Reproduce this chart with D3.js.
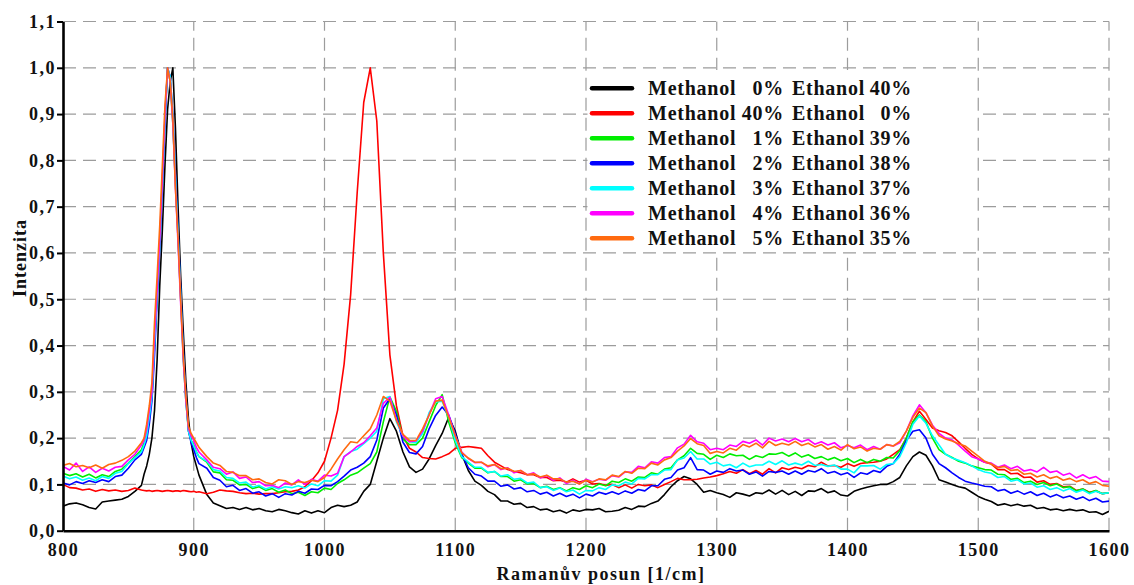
<!DOCTYPE html>
<html>
<head>
<meta charset="utf-8">
<script src="https://cdn.jsdelivr.net/npm/d3@7"></script>
<style>
  body { margin: 0; background: #fff; }
  text { font-family: "Liberation Serif", "Times New Roman", serif; font-weight: bold; fill: #111; }
</style>
</head>
<body>
<svg id="chart" width="1134" height="585"></svg>
<script>
// Axis ticks
const xTicks = [800, 900, 1000, 1100, 1200, 1300, 1400, 1500, 1600];
const yTicks = [0, 0.1, 0.2, 0.3, 0.4, 0.5, 0.6, 0.7, 0.8, 0.9, 1.0, 1.1];
const yTickLabels = ["0,0", "0,1", "0,2", "0,3", "0,4", "0,5", "0,6", "0,7", "0,8", "0,9", "1,0", "1,1"];

// Sampling grid of the spectra [1/cm]: finer around the sharp 880 band
const wavenumbers = [
  ...d3.range(800, 860, 5),
  ...d3.range(860, 906, 2),
  ...d3.range(910, 1601, 5)
];

// Mixture composition (legend)
const methanolPct = [0, 40, 1, 2, 3, 4, 5];
const ethanolPct = [40, 0, 39, 38, 37, 36, 35];
const seriesColors = ["#000000", "#ff0000", "#00ee00", "#0000ff", "#00ffff", "#ff00ff", "#ff6a10"];

// Normalised Raman intensities, one array per mixture
const methanol0 = [
  .053,.058,.060,.056,.050,.047,.062,.064,.066,.068,.074,.085,
  .098,.122,.140,.165,.200,.260,.370,.530,.650,.790,.910,.970,1.00,.870,.700,.550,.430,.320,.240,.190,.160,.140,.120,
  .078,.060,.054,.048,.050,.046,.050,.045,.048,.043,
  .041,.046,.043,.039,.036,.043,.038,.043,.039,.050,
  .055,.052,.055,.062,.085,.100,.150,.200,.242,.215,
  .170,.138,.126,.133,.155,.184,.210,.245,.215,.165,
  .130,.107,.098,.085,.078,.064,.064,.057,.059,.050,
  .052,.045,.047,.041,.044,.038,.045,.042,.046,.045,
  .048,.041,.042,.044,.050,.046,.053,.052,.059,.064,
  .078,.095,.108,.117,.112,.100,.083,.087,.082,.078,
  .072,.082,.079,.075,.082,.080,.088,.079,.087,.078,
  .085,.076,.086,.085,.091,.082,.086,.077,.075,.085,
  .090,.094,.097,.100,.100,.106,.115,.140,.160,.170,
  .163,.140,.110,.105,.100,.095,.092,.083,.074,.068,
  .063,.055,.058,.054,.057,.053,.055,.048,.050,.045,
  .047,.043,.046,.043,.045,.040,.041,.035,.042
];
const methanol40 = [
  .100,.093,.092,.088,.090,.085,.089,.086,.088,.085,.087,.092,
  .088,.087,.086,.087,.085,.086,.087,.086,.085,.086,.087,.086,.085,.086,.086,.085,.087,.086,.085,.084,.085,.083,.084,
  .080,.083,.088,.086,.085,.082,.080,.081,.079,.080,
  .080,.082,.084,.085,.088,.095,.108,.125,.150,.200,
  .260,.360,.510,.730,.925,1.00,.885,.600,.380,.270,
  .205,.178,.170,.158,.156,.155,.160,.166,.178,.180,
  .182,.180,.178,.162,.148,.140,.132,.128,.125,.121,
  .121,.115,.115,.108,.109,.105,.112,.105,.109,.101,
  .102,.098,.100,.093,.099,.092,.100,.097,.099,.093,
  .100,.106,.113,.110,.110,.111,.114,.116,.119,.123,
  .128,.124,.132,.123,.130,.122,.134,.125,.136,.132,
  .137,.134,.141,.138,.148,.140,.141,.137,.145,.139,
  .145,.147,.148,.150,.155,.165,.175,.200,.235,.258,
  .240,.222,.216,.212,.205,.192,.178,.165,.155,.148,
  .144,.132,.132,.123,.124,.115,.116,.105,.108,.100,
  .102,.095,.096,.087,.090,.083,.086,.080,.082
];
const methanol1 = [
  .124,.119,.123,.116,.122,.114,.121,.117,.128,.133,.146,.160,
  .175,.190,.210,.250,.290,.400,.510,.620,.750,.890,1.00,.970,.880,.750,.630,.500,.370,.280,.215,.195,.185,.170,.160,
  .148,.127,.125,.110,.109,.099,.100,.091,.095,.087,
  .091,.083,.088,.080,.083,.076,.084,.082,.092,.089,
  .102,.110,.120,.125,.135,.145,.170,.235,.289,.258,
  .198,.186,.186,.200,.235,.270,.294,.235,.190,.158,
  .146,.135,.135,.125,.128,.117,.117,.107,.110,.101,
  .102,.093,.096,.089,.093,.086,.093,.089,.097,.093,
  .101,.097,.107,.104,.112,.107,.116,.115,.125,.122,
  .133,.136,.153,.162,.178,.167,.165,.154,.163,.158,
  .166,.162,.163,.154,.162,.158,.166,.165,.169,.161,
  .168,.159,.164,.156,.160,.153,.158,.151,.156,.147,
  .154,.147,.154,.150,.158,.157,.173,.200,.235,.250,
  .235,.200,.175,.165,.158,.150,.146,.140,.136,.132,
  .131,.122,.121,.111,.113,.104,.107,.100,.104,.097,
  .101,.093,.095,.086,.090,.082,.087,.080,.082
];
const methanol2 = [
  .103,.099,.106,.102,.108,.104,.110,.106,.117,.120,.135,.153,
  .165,.180,.195,.230,.280,.380,.500,.610,.740,.880,1.00,.980,.900,.770,.650,.520,.390,.290,.215,.190,.175,.158,.145,
  .135,.115,.109,.095,.098,.087,.091,.081,.084,.075,
  .080,.072,.080,.077,.085,.081,.090,.089,.098,.097,
  .106,.118,.131,.137,.146,.160,.196,.265,.285,.250,
  .191,.169,.166,.182,.220,.249,.267,.250,.210,.165,
  .136,.122,.118,.107,.107,.096,.099,.090,.093,.084,
  .087,.079,.083,.075,.081,.074,.079,.071,.079,.075,
  .083,.079,.084,.079,.086,.081,.089,.086,.097,.097,
  .111,.115,.131,.136,.158,.132,.131,.122,.129,.126,
  .134,.129,.131,.122,.127,.118,.128,.126,.129,.122,
  .129,.122,.130,.127,.134,.124,.128,.121,.125,.115,
  .125,.122,.130,.126,.139,.145,.165,.195,.215,.218,
  .200,.165,.145,.136,.125,.115,.107,.103,.100,.096,
  .095,.086,.089,.081,.086,.079,.084,.076,.081,.073,
  .078,.071,.075,.068,.073,.065,.070,.062,.064
];
const methanol3 = [
  .118,.112,.116,.109,.114,.108,.117,.113,.124,.128,.145,.158,
  .170,.185,.205,.245,.290,.400,.510,.620,.750,.890,1.00,.980,.890,.760,.640,.510,.380,.280,.215,.195,.183,.170,.160,
  .150,.132,.129,.115,.113,.103,.105,.094,.098,.090,
  .095,.090,.095,.093,.097,.092,.101,.097,.108,.107,
  .120,.160,.171,.176,.188,.200,.215,.285,.290,.235,
  .205,.192,.190,.210,.255,.278,.280,.245,.195,.160,
  .148,.137,.137,.126,.128,.118,.121,.111,.113,.103,
  .105,.093,.095,.087,.092,.084,.088,.079,.087,.086,
  .093,.089,.099,.097,.105,.101,.113,.112,.121,.121,
  .131,.132,.153,.157,.171,.155,.155,.144,.148,.140,
  .143,.136,.146,.138,.142,.142,.150,.143,.151,.142,
  .146,.142,.150,.141,.143,.139,.142,.133,.133,.125,
  .140,.140,.141,.133,.143,.145,.160,.190,.230,.248,
  .232,.205,.185,.165,.157,.152,.147,.140,.132,.127,
  .124,.115,.117,.107,.110,.101,.103,.094,.097,.089,
  .093,.086,.091,.083,.088,.080,.085,.080,.082
];
const methanol4 = [
  .139,.131,.146,.128,.138,.126,.135,.129,.137,.139,.153,.165,
  .185,.195,.220,.260,.300,.420,.520,.630,.760,.900,1.00,.970,.880,.740,.620,.490,.370,.280,.220,.205,.195,.180,.170,
  .153,.137,.134,.122,.127,.113,.116,.104,.106,.097,
  .098,.093,.103,.099,.110,.100,.111,.107,.120,.118,
  .124,.160,.170,.182,.190,.205,.222,.275,.288,.240,
  .205,.192,.194,.215,.250,.285,.290,.250,.205,.170,
  .156,.147,.148,.138,.143,.132,.136,.125,.130,.121,
  .125,.114,.119,.109,.114,.102,.109,.101,.111,.106,
  .111,.109,.119,.116,.127,.126,.139,.136,.149,.146,
  .158,.160,.179,.187,.206,.192,.189,.175,.178,.175,
  .185,.182,.193,.189,.196,.185,.200,.194,.198,.192,
  .199,.192,.197,.187,.192,.185,.190,.179,.184,.179,
  .185,.175,.182,.176,.186,.183,.190,.215,.248,.272,
  .255,.228,.210,.200,.196,.185,.172,.160,.155,.148,
  .146,.137,.142,.134,.139,.129,.132,.127,.137,.126,
  .129,.120,.124,.114,.121,.113,.117,.107,.106
];
const methanol5 = [
  .141,.145,.138,.141,.136,.142,.135,.143,.146,.152,.160,.172,
  .190,.200,.230,.270,.320,.450,.550,.660,.790,.920,1.00,.970,.890,.740,.630,.500,.380,.290,.225,.210,.200,.190,.180,
  .160,.146,.141,.128,.126,.119,.119,.110,.112,.104,
  .101,.110,.108,.100,.106,.104,.109,.106,.115,.133,
  .155,.175,.192,.190,.205,.220,.250,.290,.280,.238,
  .208,.195,.195,.220,.250,.280,.282,.245,.205,.168,
  .157,.148,.148,.140,.143,.134,.135,.128,.130,.121,
  .123,.116,.120,.112,.112,.105,.107,.101,.109,.105,
  .112,.110,.120,.117,.128,.124,.135,.134,.146,.142,
  .153,.158,.172,.183,.199,.188,.184,.167,.171,.168,
  .178,.174,.186,.181,.189,.179,.193,.184,.189,.185,
  .193,.184,.189,.181,.186,.176,.182,.174,.186,.177,
  .181,.172,.178,.176,.186,.183,.193,.215,.245,.265,
  .255,.226,.205,.198,.194,.188,.183,.172,.161,.150,
  .144,.136,.139,.130,.132,.122,.124,.116,.121,.113,
  .117,.109,.113,.106,.110,.102,.106,.098,.096
];

const seriesValues = [methanol0, methanol40, methanol1, methanol2, methanol3, methanol4, methanol5];

const svg = d3.select("#chart");
const x = d3.scaleLinear().domain([800, 1600]).range([63, 1109]);
const y = d3.scaleLinear().domain([0, 1.1]).range([530.7, 21.5]);

// Dashed grid
const grid = svg.append("g").attr("stroke", "#9c9c9c").attr("stroke-width", 1.2)
  .attr("stroke-dasharray", "13,7").attr("fill", "none");
grid.selectAll("line.h").data(yTicks.filter(d => d > 0)).join("line")
  .attr("x1", x(800)).attr("x2", x(1600))
  .attr("y1", d => y(d)).attr("y2", d => y(d));
grid.selectAll("line.v").data(xTicks.filter(d => d > 800)).join("line")
  .attr("x1", d => x(d)).attr("x2", d => x(d))
  .attr("y1", y(0)).attr("y2", y(1.1));

// Legend panel
const legend = svg.append("g");
legend.append("rect")
  .attr("x", x(1200) + 1.5).attr("y", 70)
  .attr("width", x(1500) - x(1200) - 3).attr("height", 181)
  .attr("fill", "#fff");

// Spectra
svg.append("clipPath").attr("id", "plotClip").append("rect")
  .attr("x", x(800)).attr("y", y(1.1) - 2).attr("width", x(1600) - x(800)).attr("height", y(0) - y(1.1) + 2);
const line = d3.line().x((d, i) => x(wavenumbers[i])).y(d => y(d));
svg.append("g").attr("clip-path", "url(#plotClip)")
  .selectAll("path").data(seriesValues).join("path")
  .attr("d", d => line(d))
  .attr("fill", "none")
  .attr("stroke", (d, i) => seriesColors[i])
  .attr("stroke-width", 1.6)
  .attr("stroke-linejoin", "round");

// Axes
const yAxis = d3.axisLeft(y).tickValues(yTicks)
  .tickFormat((d, i) => yTickLabels[i]).tickSize(6).tickSizeOuter(0).tickPadding(1);
const gy = svg.append("g").attr("transform", `translate(${x(800)},0)`).call(yAxis);
const xAxis = d3.axisBottom(x).tickValues(xTicks).tickFormat(d => String(d))
  .tickSize(0).tickSizeOuter(0).tickPadding(13);
const gx = svg.append("g").attr("transform", `translate(0,${y(0)})`).call(xAxis);
[gx, gy].forEach(g => {
  g.select(".domain").attr("stroke", "#000").attr("stroke-width", 2.6);
  g.selectAll(".tick line").attr("stroke", "#000").attr("stroke-width", 2);
  g.selectAll(".tick text").attr("font-family", null).attr("font-size", null)
    .style("font-size", "18px").style("letter-spacing", "1.5px").attr("fill", "#111");
});

// Axis titles
svg.append("text").attr("x", 601).attr("y", 580).attr("text-anchor", "middle")
  .style("font-size", "18px").style("letter-spacing", "1.5px")
  .text("Ramanův posun [1/cm]");
svg.append("text").attr("transform", "translate(26,258) rotate(-90)").attr("text-anchor", "middle")
  .style("font-size", "18px").style("letter-spacing", "1px")
  .text("Intenzita");

// Legend entries
const rows = legend.selectAll("g.row").data(seriesColors).join("g")
  .attr("transform", (d, i) => `translate(0,${88.3 + i * 25})`);
rows.append("line").attr("x1", 592).attr("x2", 632).attr("y1", 0).attr("y2", 0)
  .attr("stroke", d => d).attr("stroke-width", 4.5).attr("stroke-linecap", "round");
const ls = "0.75px";
rows.append("text").attr("x", 648).attr("y", 6.7).style("font-size", "20px").style("letter-spacing", ls)
  .text("Methanol");
rows.append("text").attr("x", 784).attr("y", 6.7).attr("text-anchor", "end").style("font-size", "20px").style("letter-spacing", ls)
  .text((d, i) => methanolPct[i] + "%");
rows.append("text").attr("x", 792).attr("y", 6.7).style("font-size", "20px").style("letter-spacing", ls)
  .text("Ethanol");
rows.append("text").attr("x", 912).attr("y", 6.7).attr("text-anchor", "end").style("font-size", "20px").style("letter-spacing", ls)
  .text((d, i) => ethanolPct[i] + "%");
</script>
</body>
</html>
